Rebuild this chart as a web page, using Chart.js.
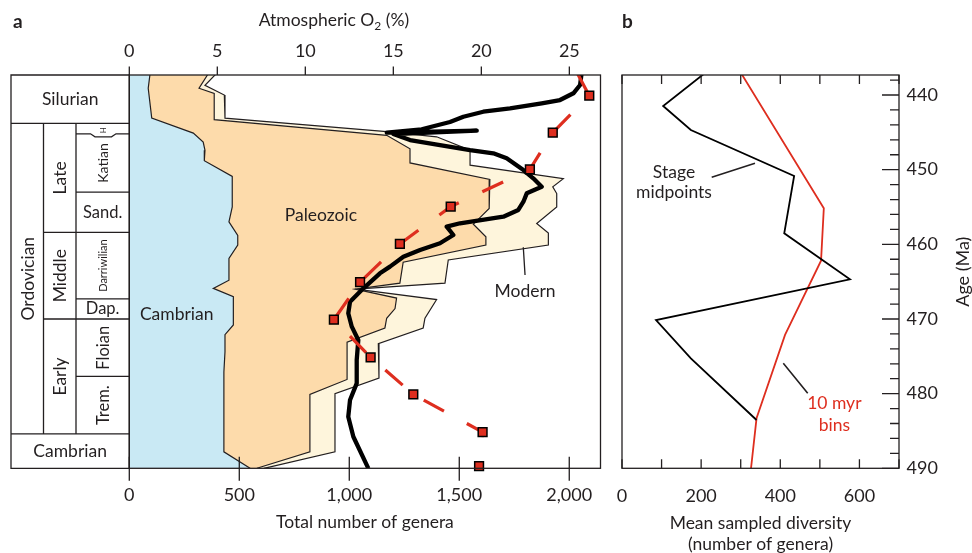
<!DOCTYPE html>
<html>
<head>
<meta charset="utf-8">
<script src="https://cdn.jsdelivr.net/npm/chart.js@4.4.1/dist/chart.umd.min.js"></script>
<style>
html,body{margin:0;padding:0;background:#fff;}
#wrap{position:relative;width:972px;height:553px;overflow:hidden;background:#fff;}
#ca{position:absolute;left:0;top:0;}
#cb{position:absolute;left:599px;top:0;}
</style>
</head>
<body>
<div id="wrap">
<canvas id="ca" width="610" height="553"></canvas>
<canvas id="cb" width="373" height="553"></canvas>
</div>
<script>
// ---------------- DATA ----------------
// Panel a: cumulative genera at the right-hand edge of each fauna (age in Ma)
const cambrianEdgeAge    = [437.0, 439.1, 443.1, 445.1, 446.3, 447.4, 448.8, 450.9, 455.0, 457.0, 458.8, 460.1, 461.9, 464.8, 465.9, 467.0, 470.8, 472.1, 474.4, 477.1, 487.8, 490.0];
const cambrianEdgeGenera = [95, 86, 102, 291, 336, 344, 341, 468, 468, 453, 493, 493, 453, 453, 382, 473, 473, 435, 435, 430, 430, 549];

const paleozoicEdgeAge    = [437.0, 439.1, 439.8, 443.3, 445.4, 447.2, 449.1, 451.3, 455.2, 457.3, 459.0, 460.1, 462.4, 465.2, 466.0, 467.2, 468.6, 469.9, 471.2, 473.1, 478.1, 480.1, 487.8, 490.0];
const paleozoicEdgeGenera = [362, 317, 386, 386, 1170, 1276, 1276, 1639, 1636, 1564, 1621, 1621, 1245, 1230, 1026, 1215, 1208, 1170, 1162, 990, 990, 821, 821, 580];

const modernEdgeAge    = [437.0, 438.7, 440.0, 443.1, 444.9, 445.6, 447.4, 449.4, 451.2, 452.3, 453.2, 455.0, 457.2, 458.5, 460.1, 462.1, 465.2, 466.0, 467.4, 469.9, 471.2, 473.3, 477.9, 480.0, 487.8, 490.0];
const modernEdgeGenera = [400, 344, 432, 435, 1170, 1397, 1549, 1549, 1973, 1925, 1943, 1943, 1852, 1905, 1905, 1450, 1435, 1030, 1397, 1344, 1336, 1132, 1135, 935, 935, 612];

// Panel a: atmospheric O2 (%)
const o2Age     = [437.0, 438.66, 439.77, 440.67, 441.11, 441.78, 442.24, 442.91, 443.62, 444.59, 445.05, 444.78, 445.22, 446.03, 446.70, 447.37, 447.81, 448.48, 450.05, 451.16, 452.28, 453.17, 454.29, 455.40, 456.30, 457.18, 457.64, 458.75, 459.86, 460.76, 461.66, 462.99, 463.88, 465.89, 467.68, 469.24, 471.03, 472.82, 475.49, 478.62, 480.85, 483.09, 485.77, 490.0];
const o2Percent = [25.7, 25.61, 25.23, 24.47, 23.43, 21.63, 20.11, 18.98, 18.22, 16.61, 14.63, 19.74, 15.0, 15.95, 17.65, 19.36, 20.68, 21.44, 22.39, 22.95, 23.43, 22.58, 22.39, 22.10, 21.25, 18.79, 18.03, 18.41, 17.65, 16.52, 15.57, 14.81, 14.24, 13.30, 12.54, 12.44, 12.64, 13.01, 12.92, 12.92, 12.54, 12.44, 12.73, 13.58];

// Panel a: red dashed series (genera, 5-Myr steps)
const redAge        = [440.09, 445.03, 449.96, 454.95, 459.94, 465.05, 470.1, 475.13, 480.1, 485.15, 489.7];
const redGenera     = [2091, 1925, 1821, 1461, 1230, 1049, 930, 1097, 1291, 1606, 1590];
const redLeadAge    = [435.0, 440.09];
const redLeadGenera = [1999, 2091];

// Panel b: mean sampled diversity
const stageAge       = [435.0, 441.47, 444.69, 450.85, 458.52, 464.69, 470.14, 475.27, 483.53];
const stageDiversity = [259, 104, 174, 435, 410, 576, 86, 174, 340];
const binAge         = [435.0, 455.17, 462.19, 472.14, 483.3, 490.5];
const binDiversity   = [277, 510, 503, 412, 340, 325];

// Tick labels
const generaTicks    = [0, 500, 1000, 1500, 2000];
const o2Ticks        = [0, 5, 10, 15, 20, 25];
const diversityTicks = [0, 200, 400, 600];
const ageTicks       = [440, 450, 460, 470, 480, 490];

// Stratigraphic column
const periodNames  = ['Silurian', 'Ordovician', 'Cambrian'];
const periodBounds = [443.8, 485.4];
const epochNames   = ['Late', 'Middle', 'Early'];
const epochTops    = [443.8, 458.4, 470.0];
const epochBases   = [458.4, 470.0, 485.4];
const stageNames   = ['H', 'Katian', 'Sand.', 'Darriwilian', 'Dap.', 'Floian', 'Trem.'];
const stageTops    = [443.8, 445.2, 453.0, 458.4, 467.3, 470.0, 477.7];
const stageBases   = [445.2, 453.0, 458.4, 467.3, 470.0, 477.7, 485.4];

// ---------------- STYLE ----------------
const INK = '#231f20';
const BLUE = '#c9e9f4';
const ORANGE = '#fddbab';
const CREAM = '#fef5dc';
const RED = '#de2e1f';
const FONT = 'Lato, "Open Sans", sans-serif';
const AGE_MIN = 437.32, AGE_MAX = 490;
const stageStyle = {
  'H': {rot: true, size: 8}, 'Katian': {rot: true, size: 14}, 'Sand.': {rot: false, size: 16.5},
  'Darriwilian': {rot: true, size: 11}, 'Dap.': {rot: false, size: 16.5},
  'Floian': {rot: true, size: 16.5}, 'Trem.': {rot: true, size: 16.5}
};

Chart.defaults.font.family = FONT;
Chart.defaults.color = INK;

const pts = (xs, ys) => xs.map((x, i) => ({x: x, y: ys[i]}));

function frameTicks(specs) {
  return {
    id: 'frameTicks',
    afterDatasetsDraw(chart) {
      const {ctx, chartArea: a} = chart;
      ctx.save();
      ctx.strokeStyle = INK; ctx.lineWidth = 1.3;
      ctx.strokeRect(a.left, a.top, a.right - a.left, a.bottom - a.top);
      ctx.beginPath();
      for (const sp of specs) {
        const s = chart.scales[sp.scale];
        for (const t of s.ticks) {
          const major = t.label !== '' && t.label != null;
          const inn = major ? sp.majorIn : sp.minorIn;
          const out = major ? sp.majorOut : sp.minorOut;
          if (inn === 0 && out === 0) continue;
          const p = s.getPixelForValue(t.value);
          if (sp.edge === 'bottom') { ctx.moveTo(p, a.bottom - inn); ctx.lineTo(p, a.bottom + out); }
          else if (sp.edge === 'top') { ctx.moveTo(p, a.top + inn); ctx.lineTo(p, a.top - out); }
          else if (sp.edge === 'right') { ctx.moveTo(a.right - inn, p); ctx.lineTo(a.right + out, p); }
        }
      }
      ctx.stroke();
      ctx.restore();
    }
  };
}

function txt(ctx, s, x, y, size, opts) {
  opts = opts || {};
  ctx.save();
  ctx.font = (opts.bold ? 'bold ' : '') + size + 'px ' + FONT;
  ctx.fillStyle = opts.color || INK;
  ctx.textAlign = opts.align || 'center';
  ctx.textBaseline = opts.baseline || 'middle';
  ctx.translate(x, y);
  if (opts.rot) ctx.rotate(-Math.PI / 2);
  ctx.fillText(s, 0, 0);
  ctx.restore();
}

const panelAExtras = {
  id: 'panelAExtras',
  afterDraw(chart) {
    const {ctx, chartArea: ca, scales} = chart;
    const Y = v => scales.y.getPixelForValue(v);
    const X = v => scales.x.getPixelForValue(v);
    // --- stratigraphic column ---
    const X0 = 11, X1 = 43.5, X2 = 76, X3 = ca.left;
    ctx.save();
    ctx.strokeStyle = INK; ctx.lineWidth = 1.3;
    ctx.beginPath();
    ctx.rect(X0, ca.top, X3 - X0, ca.bottom - ca.top);
    periodBounds.forEach(b => { ctx.moveTo(X0, Y(b)); ctx.lineTo(X3, Y(b)); });
    ctx.moveTo(X1, Y(periodBounds[0])); ctx.lineTo(X1, Y(periodBounds[1]));
    ctx.moveTo(X2, Y(periodBounds[0])); ctx.lineTo(X2, Y(periodBounds[1]));
    epochBases.slice(0, -1).forEach(b => { ctx.moveTo(X1, Y(b)); ctx.lineTo(X3, Y(b)); });
    stageBases.forEach((b, i) => {
      if (epochBases.includes(b)) return;
      const yy = Y(b);
      if (stageNames[i] === 'H') {
        ctx.moveTo(X2, yy); ctx.lineTo(90.5, yy); ctx.lineTo(95, yy + 3);
        ctx.lineTo(111.5, yy + 3); ctx.lineTo(116, yy); ctx.lineTo(X3, yy);
      } else { ctx.moveTo(X2, yy); ctx.lineTo(X3, yy); }
    });
    ctx.stroke();
    ctx.restore();
    txt(ctx, periodNames[0], (X0 + X3) / 2, (ca.top + Y(periodBounds[0])) / 2, 17.5);
    txt(ctx, periodNames[1], (X0 + X1) / 2 + 1, (Y(periodBounds[0]) + Y(periodBounds[1])) / 2, 17.5, {rot: true});
    txt(ctx, periodNames[2], (X0 + X3) / 2, (Y(periodBounds[1]) + ca.bottom) / 2, 17.5);
    epochNames.forEach((n, i) => txt(ctx, n, (X1 + X2) / 2 + 1, (Y(epochTops[i]) + Y(epochBases[i])) / 2, 17.5, {rot: true}));
    stageNames.forEach((n, i) => {
      const st = stageStyle[n];
      txt(ctx, n, (X2 + X3) / 2 + (st.rot ? 1 : 0), (Y(stageTops[i]) + Y(stageBases[i])) / 2 + (n === 'H' ? 1.5 : 0), st.size, {rot: st.rot});
    });
    // --- fauna labels ---
    txt(ctx, 'Paleozoic', X(871), Y(456.88), 17.5, {baseline: 'alphabetic'});
    txt(ctx, 'Cambrian', X(215.5), Y(470.14), 17.5, {baseline: 'alphabetic'});
    txt(ctx, 'Modern', X(1799), Y(467.1), 17.5, {baseline: 'alphabetic'});
    ctx.save();
    ctx.strokeStyle = INK; ctx.lineWidth = 1.3;
    ctx.beginPath(); ctx.moveTo(X(1791), Y(460.4)); ctx.lineTo(X(1799), Y(464.1)); ctx.stroke();
    ctx.restore();
    // --- panel letter and top-axis title ---
    txt(ctx, 'a', 13, 28.3, 19, {bold: true, align: 'left', baseline: 'alphabetic'});
    ctx.save();
    ctx.fillStyle = INK; ctx.textBaseline = 'alphabetic'; ctx.textAlign = 'left';
    const big = '17.5px ' + FONT, small = '12px ' + FONT;
    ctx.font = big; const w1 = ctx.measureText('Atmospheric O').width; const w3 = ctx.measureText(' (%)').width;
    ctx.font = small; const w2 = ctx.measureText('2').width;
    const cx = (scales.x2.getPixelForValue(0) + scales.x2.getPixelForValue(26.77)) / 2 - 31;
    let x0 = cx - (w1 + w2 + w3) / 2;
    ctx.font = big; ctx.fillText('Atmospheric O', x0, 26);
    ctx.font = small; ctx.fillText('2', x0 + w1, 30);
    ctx.font = big; ctx.fillText(' (%)', x0 + w1 + w2, 26);
    ctx.restore();
  }
};

const panelBExtras = {
  id: 'panelBExtras',
  afterDraw(chart) {
    const {ctx, scales} = chart;
    const Y = v => scales.y.getPixelForValue(v);
    const X = v => scales.x.getPixelForValue(v);
    txt(ctx, 'b', 23, 28.3, 19, {bold: true, align: 'left', baseline: 'alphabetic'});
    txt(ctx, 'Stage', X(131.4), Y(451.05), 17.5, {baseline: 'alphabetic'});
    txt(ctx, 'midpoints', X(131.4), Y(453.86), 17.5, {baseline: 'alphabetic'});
    txt(ctx, '10 myr', X(536.6), Y(482.06), 17.5, {baseline: 'alphabetic', color: RED});
    txt(ctx, 'bins', X(536.6), Y(485.07), 17.5, {baseline: 'alphabetic', color: RED});
    ctx.save();
    ctx.strokeStyle = INK; ctx.lineWidth = 1.6;
    ctx.beginPath();
    ctx.moveTo(X(226.7), Y(451.02)); ctx.lineTo(X(336.1), Y(449.15));
    ctx.moveTo(X(407.6), Y(475.94)); ctx.lineTo(X(469.3), Y(479.95));
    ctx.stroke();
    ctx.restore();
    txt(ctx, 'Age (Ma)', 364.3, 271.7, 18, {rot: true});
  }
};

// ---------------- PANEL A ----------------
new Chart(document.getElementById('ca'), {
  type: 'line',
  data: {
    datasets: [
      {label: 'Cambrian', data: pts(cambrianEdgeGenera, cambrianEdgeAge), xAxisID: 'x', yAxisID: 'y',
        fill: 'origin', backgroundColor: BLUE, borderColor: INK, borderWidth: 1.2, pointRadius: 0, order: 10},
      {label: 'Paleozoic', data: pts(paleozoicEdgeGenera, paleozoicEdgeAge), xAxisID: 'x', yAxisID: 'y',
        fill: '-1', backgroundColor: ORANGE, borderColor: INK, borderWidth: 1.2, pointRadius: 0, order: 10},
      {label: 'Modern', data: pts(modernEdgeGenera, modernEdgeAge), xAxisID: 'x', yAxisID: 'y',
        fill: '-1', backgroundColor: CREAM, borderColor: INK, borderWidth: 1.2, pointRadius: 0, order: 10},
      {label: 'Atmospheric O2', data: pts(o2Percent, o2Age), xAxisID: 'x2', yAxisID: 'y',
        fill: false, borderColor: '#000', borderWidth: 4.3, borderJoinStyle: 'round', pointRadius: 0, order: 2},
      {label: 'lead', data: pts(redLeadGenera, redLeadAge), xAxisID: 'x', yAxisID: 'y',
        fill: false, borderColor: RED, borderWidth: 3.2, pointRadius: 0, order: 1},
      {label: 'Genera (5 Myr)', data: pts(redGenera, redAge), xAxisID: 'x', yAxisID: 'y',
        fill: false, borderColor: RED, borderWidth: 3.2, borderDash: [23, 26], borderDashOffset: 22.2,
        pointStyle: 'rect', pointRadius: 6.2, pointBackgroundColor: RED, pointBorderColor: '#000',
        pointBorderWidth: 1.5, clip: false, order: 0}
    ]
  },
  options: {
    indexAxis: 'y', animation: false, responsive: false, devicePixelRatio: 1,
    layout: {padding: {left: 129.3, right: 9.5, top: 0, bottom: 0}},
    plugins: {legend: {display: false}, tooltip: {enabled: false}},
    events: [],
    scales: {
      x: {type: 'linear', position: 'bottom', min: 0, max: 2142,
        afterBuildTicks: s => { s.ticks = generaTicks.map(v => ({value: v})); },
        afterFit: s => { s.height = 84.7; },
        ticks: {autoSkip: false, maxRotation: 0, padding: 16.4, font: {size: 18}, color: INK,
          callback: v => v.toLocaleString('en-US')},
        grid: {display: false, drawTicks: false}, border: {display: false},
        title: {display: true, text: 'Total number of genera', color: INK, font: {size: 17.5}, padding: {top: 0, bottom: 20.5}}},
      x2: {type: 'linear', position: 'top', min: 0, max: 26.77,
        afterBuildTicks: s => { s.ticks = o2Ticks.map(v => ({value: v})); },
        afterFit: s => { s.height = 75; },
        ticks: {autoSkip: false, maxRotation: 0, padding: 12.7, font: {size: 18}, color: INK},
        grid: {display: false, drawTicks: false}, border: {display: false}},
      y: {type: 'linear', display: false, min: AGE_MIN, max: AGE_MAX, reverse: true}
    }
  },
  plugins: [frameTicks([
    {scale: 'x', edge: 'bottom', majorIn: 11.6, majorOut: 12.4, minorIn: 11.6, minorOut: 12.4},
    {scale: 'x2', edge: 'top', majorIn: 0, majorOut: 8.5, minorIn: 0, minorOut: 8.5}
  ]), panelAExtras]
});

// ---------------- PANEL B ----------------
new Chart(document.getElementById('cb'), {
  type: 'line',
  data: {
    datasets: [
      {label: '10 myr bins', data: pts(binDiversity, binAge), fill: false, borderColor: RED, borderWidth: 1.8, pointRadius: 0, order: 1},
      {label: 'Stage midpoints', data: pts(stageDiversity, stageAge), fill: false, borderColor: '#000', borderWidth: 1.8, pointRadius: 0, order: 0}
    ]
  },
  options: {
    indexAxis: 'y', animation: false, responsive: false, devicePixelRatio: 1,
    layout: {padding: {left: 23, right: 0, top: 75, bottom: 0}},
    plugins: {legend: {display: false}, tooltip: {enabled: false}},
    events: [],
    scales: {
      x: {type: 'linear', position: 'bottom', min: 0, max: 700,
        afterBuildTicks: s => { const t = []; for (let v = 0; v <= 700; v += 100) t.push({value: v}); s.ticks = t; },
        afterFit: s => { s.height = 84.7; },
        ticks: {autoSkip: false, maxRotation: 0, padding: 17, font: {size: 18}, color: INK,
          callback: v => diversityTicks.includes(v) ? String(v) : ''},
        grid: {display: false, drawTicks: false}, border: {display: false},
        title: {display: true, text: ['Mean sampled diversity', '(number of genera)'], color: INK,
          font: {size: 17.5, lineHeight: 1.2}, padding: {top: 0, bottom: -1.8}}},
      y: {type: 'linear', position: 'right', min: AGE_MIN, max: AGE_MAX, reverse: true,
        afterBuildTicks: s => { const t = []; for (let v = 438; v <= 490; v += 2) t.push({value: v}); s.ticks = t; },
        afterFit: s => { s.width = 73; },
        ticks: {autoSkip: false, padding: 7.5, font: {size: 18}, color: INK,
          callback: v => ageTicks.includes(v) ? String(v) : ''},
        grid: {display: false, drawTicks: false}, border: {display: false}}
    }
  },
  plugins: [frameTicks([
    {scale: 'x', edge: 'bottom', majorIn: 9, majorOut: 0, minorIn: 9, minorOut: 0},
    {scale: 'x', edge: 'top', majorIn: 9, majorOut: 0, minorIn: 9, minorOut: 0},
    {scale: 'y', edge: 'right', majorIn: 17, majorOut: 0, minorIn: 9, minorOut: 0}
  ]), panelBExtras]
});
</script>
</body>
</html>
